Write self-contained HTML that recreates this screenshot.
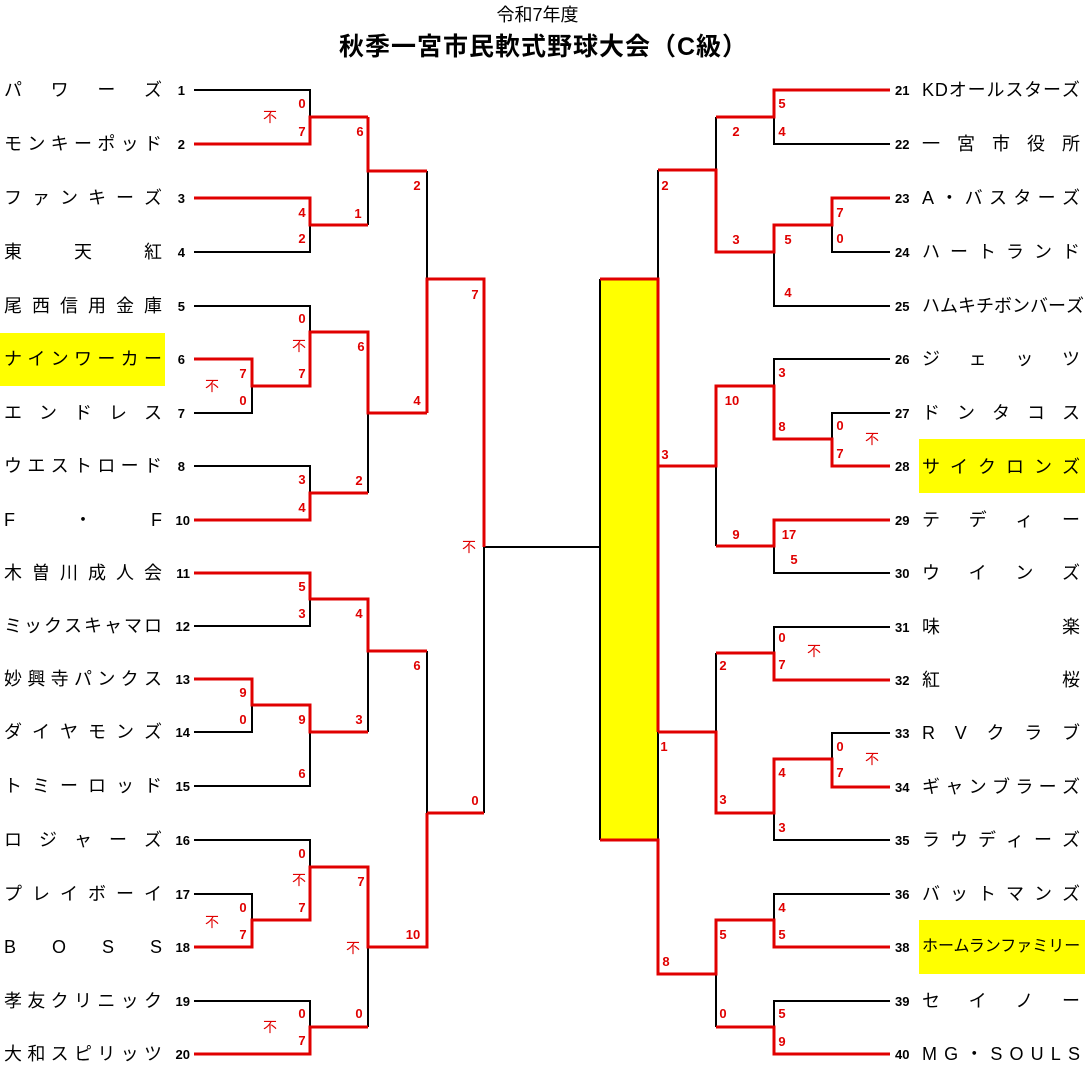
<!DOCTYPE html>
<html><head><meta charset="utf-8">
<style>
body{margin:0;background:#fff;}
#w{position:relative;width:1085px;height:1081px;overflow:hidden;background:#fff;font-family:"Liberation Sans","Noto Sans CJK JP",sans-serif;}
.n{position:absolute;display:flex;justify-content:space-between;align-items:center;height:24px;font-size:18px;color:#000;line-height:24px;white-space:nowrap;}
.L{left:4px;width:158px;}
.R{left:922px;width:158px;}
.hl{position:absolute;background:#ffff00;}
svg{position:absolute;left:0;top:0;}
</style></head><body><div id="w">
<div class="hl" style="left:0;top:333px;width:165px;height:53px"></div>
<div class="hl" style="left:919px;top:439px;width:166px;height:54px"></div>
<div class="hl" style="left:919px;top:920px;width:166px;height:54px"></div>
<div style="position:absolute;left:0;width:1075px;top:3px;text-align:center;font-size:18px;line-height:24px;">令和7年度</div>
<div style="position:absolute;left:0;width:1087px;top:32px;text-align:center;font-size:25px;letter-spacing:1px;font-weight:bold;line-height:30px;">秋季一宮市民軟式野球大会（C級）</div>

<svg width="1085" height="1081" viewBox="0 0 1085 1081">
<rect x="600" y="279" width="58" height="561" fill="#ffff00"/>
<g fill="none" stroke="#000" stroke-width="2">
<path d="M194 90H310V117"/>
<path d="M310 225V252H194"/>
<path d="M368 171V225"/>
<path d="M194 306H310V332"/>
<path d="M252 386V413H194"/>
<path d="M194 466H310V493"/>
<path d="M368 413V493"/>
<path d="M427 171V279"/>
<path d="M484 547V813M484 547H600"/>
<path d="M310 599V626H194"/>
<path d="M252 705V732H194"/>
<path d="M310 732V786H194"/>
<path d="M368 651V732"/>
<path d="M427 651V813"/>
<path d="M194 840H310V867"/>
<path d="M194 894H252V920"/>
<path d="M368 947V1027"/>
<path d="M310 1027V1001H194"/>
<path d="M774 117V144H890"/>
<path d="M716 117V170"/>
<path d="M832 225V252H890"/>
<path d="M774 252V306H890"/>
<path d="M658 170V279"/>
<path d="M658 732V840"/>
<path d="M600 279V840"/>
<path d="M890 359H774V386"/>
<path d="M890 413H832V439"/>
<path d="M716 466V546"/>
<path d="M774 546V573H890"/>
<path d="M890 627H774V653"/>
<path d="M716 653V732"/>
<path d="M890 733H832V759"/>
<path d="M774 813V840H890"/>
<path d="M890 894H774V920"/>
<path d="M716 974V1027"/>
<path d="M774 1027V1001H890"/>
</g>
<g fill="none" stroke="#e00000" stroke-width="3">
<path d="M194 144H310V117H368"/>
<path d="M194 198H310V225H368"/>
<path d="M368 117V171H427"/>
<path d="M194 359H252V386H310V332H368V413H427"/>
<path d="M194 520H310V493H368"/>
<path d="M427 413V279H484V547"/>
<path d="M427 813H484"/>
<path d="M194 573H310V599H368V651H427"/>
<path d="M194 679H252V705H310V732H368"/>
<path d="M427 813V947H368V867H310V920H252V947H194"/>
<path d="M194 1054H310V1027H368"/>
<path d="M890 90H774V117H716"/>
<path d="M658 170H716V252H774V225H832V198H890"/>
<path d="M600 279H658V732"/>
<path d="M600 840H658V974H716V920H774V947H890"/>
<path d="M658 466H716V386H774V439H832V466H890"/>
<path d="M716 546H774V520H890"/>
<path d="M716 653H774V680H890"/>
<path d="M658 732H716V813H774V759H832V787H890"/>
<path d="M716 1027H774V1054H890"/>
</g>
<g font-family="Liberation Sans, sans-serif" font-size="13" font-weight="bold" fill="#000">
<g text-anchor="end">
<text x="185" y="95">1</text><text x="185" y="149">2</text><text x="185" y="203">3</text><text x="185" y="257">4</text>
<text x="185" y="311">5</text><text x="185" y="364">6</text><text x="185" y="418">7</text><text x="185" y="471">8</text>
<text x="190" y="525">10</text><text x="190" y="578">11</text><text x="190" y="631">12</text><text x="190" y="684">13</text>
<text x="190" y="737">14</text><text x="190" y="791">15</text><text x="190" y="845">16</text><text x="190" y="899">17</text>
<text x="190" y="952">18</text><text x="190" y="1006">19</text><text x="190" y="1059">20</text>
</g>
<text x="895" y="95">21</text><text x="895" y="149">22</text><text x="895" y="203">23</text><text x="895" y="257">24</text>
<text x="895" y="311">25</text><text x="895" y="364">26</text><text x="895" y="418">27</text><text x="895" y="471">28</text>
<text x="895" y="525">29</text><text x="895" y="578">30</text><text x="895" y="632">31</text><text x="895" y="685">32</text>
<text x="895" y="738">33</text><text x="895" y="792">34</text><text x="895" y="845">35</text><text x="895" y="899">36</text>
<text x="895" y="952">38</text><text x="895" y="1006">39</text><text x="895" y="1059">40</text>
</g>
<g font-family="Liberation Sans, sans-serif" font-size="13" font-weight="bold" fill="#e00000" text-anchor="middle">
<text x="302" y="108">0</text><text x="302" y="136">7</text><text x="360" y="136">6</text>
<text x="302" y="217">4</text><text x="358" y="218">1</text><text x="302" y="243">2</text>
<text x="417" y="190">2</text><text x="475" y="299">7</text>
<text x="302" y="323">0</text><text x="302" y="378">7</text><text x="361" y="351">6</text>
<text x="243" y="378">7</text><text x="243" y="405">0</text><text x="417" y="405">4</text>
<text x="302" y="484">3</text><text x="302" y="512">4</text><text x="359" y="485">2</text>
<text x="302" y="591">5</text><text x="302" y="618">3</text><text x="359" y="618">4</text>
<text x="417" y="670">6</text><text x="243" y="697">9</text><text x="243" y="724">0</text>
<text x="302" y="724">9</text><text x="359" y="724">3</text><text x="302" y="778">6</text>
<text x="475" y="805">0</text>
<text x="302" y="858">0</text><text x="302" y="912">7</text><text x="361" y="886">7</text>
<text x="243" y="912">0</text><text x="243" y="939">7</text><text x="413" y="939">10</text>
<text x="302" y="1018">0</text><text x="302" y="1045">7</text><text x="359" y="1018">0</text>
<text x="782" y="108">5</text><text x="782" y="136">4</text><text x="736" y="136">2</text>
<text x="665" y="190">2</text><text x="840" y="217">7</text><text x="840" y="243">0</text>
<text x="736" y="244">3</text><text x="788" y="244">5</text><text x="788" y="297">4</text>
<text x="782" y="377">3</text><text x="732" y="405">10</text>
<text x="782" y="431">8</text><text x="840" y="430">0</text><text x="840" y="458">7</text>
<text x="665" y="459">3</text><text x="789" y="539">17</text><text x="736" y="539">9</text>
<text x="794" y="564">5</text><text x="782" y="642">0</text><text x="782" y="669">7</text>
<text x="723" y="670">2</text><text x="840" y="751">0</text><text x="840" y="777">7</text>
<text x="782" y="777">4</text><text x="664" y="751">1</text><text x="723" y="804">3</text>
<text x="782" y="832">3</text>
<text x="782" y="912">4</text><text x="782" y="939">5</text><text x="723" y="939">5</text>
<text x="666" y="966">8</text><text x="723" y="1018">0</text><text x="782" y="1018">5</text>
<text x="782" y="1046">9</text>
</g>
<g font-family="Liberation Sans, Noto Sans CJK JP, sans-serif" font-size="14" fill="#e00000" text-anchor="middle">
<text x="270" y="122">不</text><text x="299" y="351">不</text><text x="212" y="391">不</text>
<text x="469" y="552">不</text><text x="299" y="885">不</text><text x="212" y="927">不</text>
<text x="353" y="953">不</text><text x="270" y="1032">不</text>
<text x="872" y="444">不</text><text x="814" y="656">不</text><text x="872" y="764">不</text>
</g>
</svg>

<div class="n L" style="top:78px"><span>パ</span><span>ワ</span><span>ー</span><span>ズ</span></div>
<div class="n L" style="top:132px"><span>モ</span><span>ン</span><span>キ</span><span>ー</span><span>ポ</span><span>ッ</span><span>ド</span></div>
<div class="n L" style="top:186px"><span>フ</span><span>ァ</span><span>ン</span><span>キ</span><span>ー</span><span>ズ</span></div>
<div class="n L" style="top:240px"><span>東</span><span>天</span><span>紅</span></div>
<div class="n L" style="top:294px"><span>尾</span><span>西</span><span>信</span><span>用</span><span>金</span><span>庫</span></div>
<div class="n L" style="top:347px"><span>ナ</span><span>イ</span><span>ン</span><span>ワ</span><span>ー</span><span>カ</span><span>ー</span></div>
<div class="n L" style="top:401px"><span>エ</span><span>ン</span><span>ド</span><span>レ</span><span>ス</span></div>
<div class="n L" style="top:454px"><span>ウ</span><span>エ</span><span>ス</span><span>ト</span><span>ロ</span><span>ー</span><span>ド</span></div>
<div class="n L" style="top:508px"><span>F</span><span>・</span><span>F</span></div>
<div class="n L" style="top:561px"><span>木</span><span>曽</span><span>川</span><span>成</span><span>人</span><span>会</span></div>
<div class="n L" style="top:614px"><span>ミ</span><span>ッ</span><span>ク</span><span>ス</span><span>キ</span><span>ャ</span><span>マ</span><span>ロ</span></div>
<div class="n L" style="top:667px"><span>妙</span><span>興</span><span>寺</span><span>パ</span><span>ン</span><span>ク</span><span>ス</span></div>
<div class="n L" style="top:720px"><span>ダ</span><span>イ</span><span>ヤ</span><span>モ</span><span>ン</span><span>ズ</span></div>
<div class="n L" style="top:774px"><span>ト</span><span>ミ</span><span>ー</span><span>ロ</span><span>ッ</span><span>ド</span></div>
<div class="n L" style="top:828px"><span>ロ</span><span>ジ</span><span>ャ</span><span>ー</span><span>ズ</span></div>
<div class="n L" style="top:882px"><span>プ</span><span>レ</span><span>イ</span><span>ボ</span><span>ー</span><span>イ</span></div>
<div class="n L" style="top:935px"><span>B</span><span>O</span><span>S</span><span>S</span></div>
<div class="n L" style="top:989px"><span>孝</span><span>友</span><span>ク</span><span>リ</span><span>ニ</span><span>ッ</span><span>ク</span></div>
<div class="n L" style="top:1042px"><span>大</span><span>和</span><span>ス</span><span>ピ</span><span>リ</span><span>ッ</span><span>ツ</span></div>

<div class="n R" style="top:78px"><span>K</span><span>D</span><span>オ</span><span>ー</span><span>ル</span><span>ス</span><span>タ</span><span>ー</span><span>ズ</span></div>
<div class="n R" style="top:132px"><span>一</span><span>宮</span><span>市</span><span>役</span><span>所</span></div>
<div class="n R" style="top:186px"><span>A</span><span>・</span><span>バ</span><span>ス</span><span>タ</span><span>ー</span><span>ズ</span></div>
<div class="n R" style="top:240px"><span>ハ</span><span>ー</span><span>ト</span><span>ラ</span><span>ン</span><span>ド</span></div>
<div class="n R" style="top:294px"><span>ハ</span><span>ム</span><span>キ</span><span>チ</span><span>ボ</span><span>ン</span><span>バ</span><span>ー</span><span>ズ</span></div>
<div class="n R" style="top:347px"><span>ジ</span><span>ェ</span><span>ッ</span><span>ツ</span></div>
<div class="n R" style="top:401px"><span>ド</span><span>ン</span><span>タ</span><span>コ</span><span>ス</span></div>
<div class="n R" style="top:455px"><span>サ</span><span>イ</span><span>ク</span><span>ロ</span><span>ン</span><span>ズ</span></div>
<div class="n R" style="top:508px"><span>テ</span><span>デ</span><span>ィ</span><span>ー</span></div>
<div class="n R" style="top:561px"><span>ウ</span><span>イ</span><span>ン</span><span>ズ</span></div>
<div class="n R" style="top:615px"><span>味</span><span>楽</span></div>
<div class="n R" style="top:668px"><span>紅</span><span>桜</span></div>
<div class="n R" style="top:721px"><span>R</span><span>V</span><span>ク</span><span>ラ</span><span>ブ</span></div>
<div class="n R" style="top:775px"><span>ギ</span><span>ャ</span><span>ン</span><span>ブ</span><span>ラ</span><span>ー</span><span>ズ</span></div>
<div class="n R" style="top:828px"><span>ラ</span><span>ウ</span><span>デ</span><span>ィ</span><span>ー</span><span>ズ</span></div>
<div class="n R" style="top:882px"><span>バ</span><span>ッ</span><span>ト</span><span>マ</span><span>ン</span><span>ズ</span></div>
<div class="n R" style="top:935px;width:163px;font-size:16px;justify-content:flex-start;"><span>ホームランファミリー</span></div>
<div class="n R" style="top:989px"><span>セ</span><span>イ</span><span>ノ</span><span>ー</span></div>
<div class="n R" style="top:1042px"><span>M</span><span>G</span><span>・</span><span>S</span><span>O</span><span>U</span><span>L</span><span>S</span></div>
</div></body></html>
